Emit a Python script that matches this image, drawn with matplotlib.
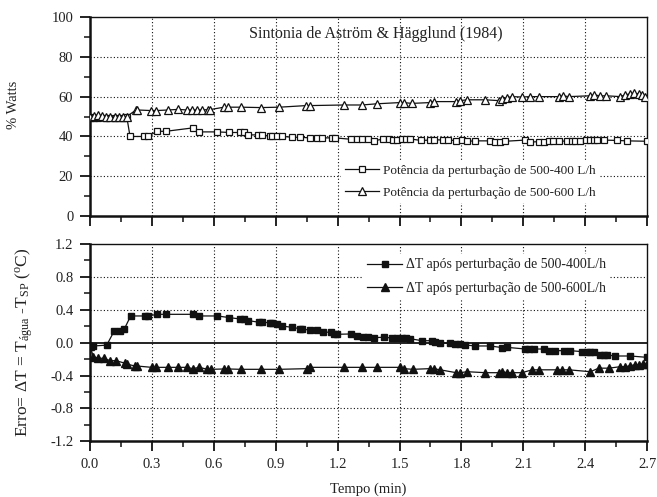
import matplotlib
matplotlib.use("Agg")
import matplotlib.pyplot as plt
from matplotlib.ticker import MultipleLocator

plt.rcParams['font.family'] = ['Liberation Serif', 'DejaVu Serif']
plt.rcParams['mathtext.fontset'] = 'custom'
plt.rcParams['mathtext.rm'] = 'Liberation Serif'
plt.rcParams['mathtext.it'] = 'Liberation Serif:italic'

# ---- Power (% Watts), disturbance 500-400 L/h ----
t_pot_400 = [0.0, 0.019, 0.040, 0.078, 0.121, 0.162, 0.178, 0.194, 0.262, 0.280, 0.327, 0.368,
             0.498, 0.527, 0.617, 0.676, 0.727, 0.744, 0.768, 0.816, 0.833, 0.870, 0.881,
             0.905, 0.930, 0.978, 1.018, 1.067, 1.099, 1.124, 1.172, 1.188, 1.264, 1.293,
             1.318, 1.345, 1.374, 1.419, 1.447, 1.468, 1.490, 1.511, 1.532, 1.549, 1.604,
             1.649, 1.665, 1.710, 1.733, 1.775, 1.803, 1.827, 1.867, 1.940, 1.964, 1.988,
             2.013, 2.110, 2.134, 2.174, 2.198, 2.223, 2.244, 2.271, 2.312, 2.336, 2.352,
             2.376, 2.405, 2.425, 2.441, 2.457, 2.489, 2.554, 2.603, 2.697]
p_pot_400 = [50.0, 49.5, 49.5, 49.5, 49.5, 49.5, 50.0, 40.0, 40.0, 40.2, 42.6, 42.6,
             44.3, 42.3, 42.3, 42.0, 42.0, 42.0, 40.8, 40.8, 40.8, 40.1, 40.1,
             40.1, 40.1, 39.6, 39.6, 39.3, 39.3, 39.3, 39.3, 39.3, 38.6, 38.6,
             38.6, 38.6, 37.9, 38.6, 38.6, 38.4, 38.4, 38.6, 38.8, 38.8, 38.0,
             38.2, 38.4, 38.2, 38.4, 37.8, 38.2, 37.6, 37.8, 37.8, 37.4, 37.4,
             37.6, 38.2, 37.2, 37.4, 37.4, 37.6, 37.6, 37.8, 37.6, 37.8, 37.8,
             37.8, 38.0, 38.0, 38.0, 38.0, 38.2, 38.0, 37.8, 37.6]

# ---- Power (% Watts), disturbance 500-600 L/h ----
t_pot_600 = [0.0, 0.019, 0.040, 0.057, 0.078, 0.097, 0.121, 0.142, 0.162, 0.178, 0.223, 0.230,
             0.296, 0.320, 0.380, 0.428, 0.469, 0.493, 0.517, 0.542, 0.574, 0.582, 0.650,
             0.671, 0.731, 0.828, 0.918, 1.048, 1.067, 1.229, 1.318, 1.390, 1.500, 1.520,
             1.560, 1.646, 1.665, 1.775, 1.794, 1.827, 1.916, 1.980, 1.997, 2.021, 2.045,
             2.094, 2.134, 2.174, 2.271, 2.292, 2.320, 2.422, 2.444, 2.470, 2.503, 2.570,
             2.595, 2.619, 2.635, 2.659, 2.675, 2.692]
p_pot_600 = [50.0, 50.4, 50.8, 50.4, 50.0, 49.8, 49.8, 50.0, 49.8, 50.0, 53.3, 53.3,
             53.0, 53.0, 53.3, 53.6, 53.3, 53.3, 53.3, 53.3, 53.5, 53.5, 54.7,
             54.7, 54.7, 54.5, 54.7, 55.5, 55.5, 55.8, 55.8, 56.4, 57.0, 57.0,
             56.6, 57.0, 57.5, 57.5, 58.0, 58.4, 58.4, 58.0, 58.7, 59.5, 60.0,
             59.8, 60.0, 60.0, 60.0, 60.4, 60.0, 60.4, 60.9, 60.4, 60.4, 60.0,
             60.9, 61.4, 61.7, 61.4, 60.9, 60.0]

# ---- Error ΔT, disturbance 500-400 L/h ----
t_err_400 = [0.0, 0.016, 0.081, 0.118, 0.146, 0.167, 0.197, 0.267, 0.280, 0.327, 0.369,
             0.498, 0.529, 0.617, 0.676, 0.727, 0.744, 0.768, 0.820, 0.833, 0.870, 0.881,
             0.905, 0.930, 0.978, 1.018, 1.027, 1.067, 1.099, 1.128, 1.167, 1.183, 1.196,
             1.264, 1.296, 1.325, 1.345, 1.374, 1.423, 1.463, 1.487, 1.511, 1.532, 1.549,
             1.609, 1.657, 1.673, 1.697, 1.746, 1.770, 1.791, 1.819, 1.867, 1.940, 1.997,
             2.021, 2.110, 2.126, 2.150, 2.198, 2.223, 2.255, 2.295, 2.328, 2.385, 2.409,
             2.425, 2.441, 2.473, 2.489, 2.506, 2.546, 2.619, 2.697]
e_err_400 = [-0.04, -0.04, -0.03, 0.146, 0.146, 0.17, 0.325, 0.325, 0.325, 0.345, 0.345,
             0.345, 0.325, 0.325, 0.305, 0.288, 0.284, 0.268, 0.248, 0.248, 0.243, 0.236,
             0.228, 0.203, 0.187, 0.170, 0.167, 0.151, 0.151, 0.130, 0.126, 0.106, 0.102,
             0.106, 0.085, 0.066, 0.066, 0.061, 0.066, 0.057, 0.057, 0.057, 0.057, 0.049,
             0.024, 0.024, 0.012, 0.0, -0.008, -0.016, -0.020, -0.028, -0.040, -0.040, -0.060,
             -0.057, -0.077, -0.077, -0.077, -0.077, -0.097, -0.097, -0.097, -0.097, -0.109, -0.109,
             -0.109, -0.109, -0.150, -0.150, -0.150, -0.162, -0.162, -0.178]

# ---- Error ΔT, disturbance 500-600 L/h ----
t_err_600 = [0.0, 0.016, 0.040, 0.068, 0.097, 0.126, 0.170, 0.178, 0.218, 0.229, 0.299,
             0.320, 0.380, 0.428, 0.469, 0.498, 0.530, 0.569, 0.585, 0.650, 0.671, 0.731,
             0.829, 0.918, 1.051, 1.067, 1.229, 1.318, 1.390, 1.500, 1.520, 1.565, 1.646,
             1.665, 1.697, 1.775, 1.794, 1.827, 1.916, 1.980, 1.997, 2.021, 2.045, 2.094,
             2.142, 2.174, 2.263, 2.287, 2.320, 2.425, 2.465, 2.515, 2.570, 2.595, 2.619,
             2.639, 2.659, 2.680, 2.697]
e_err_600 = [-0.04, -0.17, -0.19, -0.19, -0.219, -0.219, -0.25, -0.26, -0.284, -0.284, -0.30,
             -0.30, -0.30, -0.30, -0.30, -0.316, -0.30, -0.324, -0.324, -0.32, -0.32, -0.324,
             -0.324, -0.324, -0.316, -0.30, -0.30, -0.30, -0.30, -0.30, -0.316, -0.324, -0.316,
             -0.316, -0.33, -0.365, -0.365, -0.353, -0.365, -0.365, -0.353, -0.365, -0.365, -0.365,
             -0.33, -0.33, -0.33, -0.33, -0.33, -0.353, -0.31, -0.31, -0.292, -0.292, -0.28,
             -0.27, -0.27, -0.26, -0.26]

x_ticks = [0.0, 0.3, 0.6, 0.9, 1.2, 1.5, 1.8, 2.1, 2.4, 2.7]
pot_ticks = [0, 20, 40, 60, 80, 100]
err_ticks = [-1.2, -0.8, -0.4, 0.0, 0.4, 0.8, 1.2]

ink = '#111111'
txt = '#222222'
tick_fs = 10.5
leg_fs = 9.5

fig = plt.figure(figsize=(6.57, 4.97), dpi=100)
ax1 = fig.add_axes([0.137, 0.565, 0.848, 0.401])
ax2 = fig.add_axes([0.137, 0.112, 0.848, 0.397])


def style_axes(ax, yticks, ymin, ymax, yminor, grid_y):
    ax.set_xlim(0, 2.7)
    ax.set_ylim(ymin, ymax)
    ax.set_xticks(x_ticks)
    ax.set_yticks(yticks)
    ax.xaxis.set_minor_locator(MultipleLocator(0.15))
    ax.yaxis.set_minor_locator(MultipleLocator(yminor))
    ax.tick_params(which='major', direction='out', length=7, width=1.3, colors=ink,
                   labelcolor=txt, labelsize=tick_fs, pad=5, top=False, right=False)
    ax.tick_params(which='minor', direction='out', length=4, width=1.1, colors=ink,
                   top=False, right=False)
    for side in ('left', 'bottom'):
        ax.spines[side].set_linewidth(1.8)
        ax.spines[side].set_color(ink)
    for side in ('top', 'right'):
        ax.spines[side].set_linewidth(1.0)
        ax.spines[side].set_color(ink)
    for xv in x_ticks[1:-1]:
        ax.axvline(xv, color=ink, lw=0.8, ls=(0, (1, 2)), zorder=0)
    for yv in grid_y:
        ax.axhline(yv, color=ink, lw=0.8, ls=(0, (1, 2)), zorder=0)


# Upper panel: heater power
style_axes(ax1, pot_ticks, 0, 100, 10, [20, 40, 60, 80])
ax1.set_xticklabels([])
ax1.set_yticklabels([str(v) for v in pot_ticks])
ax1.plot(t_pot_400, p_pot_400, color=ink, lw=0.9, marker='s', ms=4.2, mfc='white',
         mec=ink, mew=0.9, label='Potência da perturbação de 500-400 L/h', zorder=3)
ax1.plot(t_pot_600, p_pot_600, color=ink, lw=0.9, marker='^', ms=5.5, mfc='white',
         mec=ink, mew=0.9, label='Potência da perturbação de 500-600 L/h', zorder=3)
ax1.set_ylabel('% Watts', fontsize=10.5, color=txt)
ax1.yaxis.set_label_coords(-0.126, 0.56)
ax1.text(0.513, 0.915, 'Sintonia de Aström & Hägglund (1984)', transform=ax1.transAxes,
         ha='center', va='center', fontsize=11.5, color=txt)
leg1 = ax1.legend(loc='center left', bbox_to_anchor=(0.45, 0.173), fontsize=leg_fs,
                  frameon=True, fancybox=False, framealpha=1, edgecolor='none',
                  facecolor='white', handlelength=2.6, handletextpad=0.3,
                  labelspacing=0.7, borderpad=0.3, borderaxespad=0, labelcolor=txt)
leg1.set_zorder(5)

# Lower panel: temperature error
style_axes(ax2, err_ticks, -1.2, 1.2, 0.2, [-0.8, -0.4, 0.4, 0.8])
ax2.axhline(0.0, color=ink, lw=1.3, zorder=1)
ax2.set_yticklabels([f'{v:.1f}' for v in err_ticks])
ax2.set_xticklabels([f'{v:.1f}' for v in x_ticks])
ax2.plot(t_err_400, e_err_400, color=ink, lw=0.9, marker='s', ms=4.5, mfc=ink,
         mec=ink, label='ΔT após perturbação de 500-400L/h', zorder=3)
ax2.plot(t_err_600, e_err_600, color=ink, lw=0.9, marker='^', ms=5.8, mfc=ink,
         mec=ink, label='ΔT após perturbação de 500-600L/h', zorder=3)
ax2.set_ylabel('Erro= ΔT = T$_{\\mathrm{água}}$ -T$_{\\mathrm{SP}}$ ($^{\\mathrm{o}}$C)',
               fontsize=12.5, color=txt, labelpad=11)
ax2.set_xlabel('Tempo (min)', fontsize=tick_fs, color=txt, labelpad=8)
leg2 = ax2.legend(loc='center left', bbox_to_anchor=(0.49, 0.835), fontsize=10,
                  frameon=True, fancybox=False, framealpha=1, edgecolor='none',
                  facecolor='white', handlelength=2.5, handletextpad=0.3,
                  labelspacing=0.75, borderpad=0.3, borderaxespad=0, labelcolor=txt)
leg2.set_zorder(5)

fig.savefig('out.png', dpi=100)
